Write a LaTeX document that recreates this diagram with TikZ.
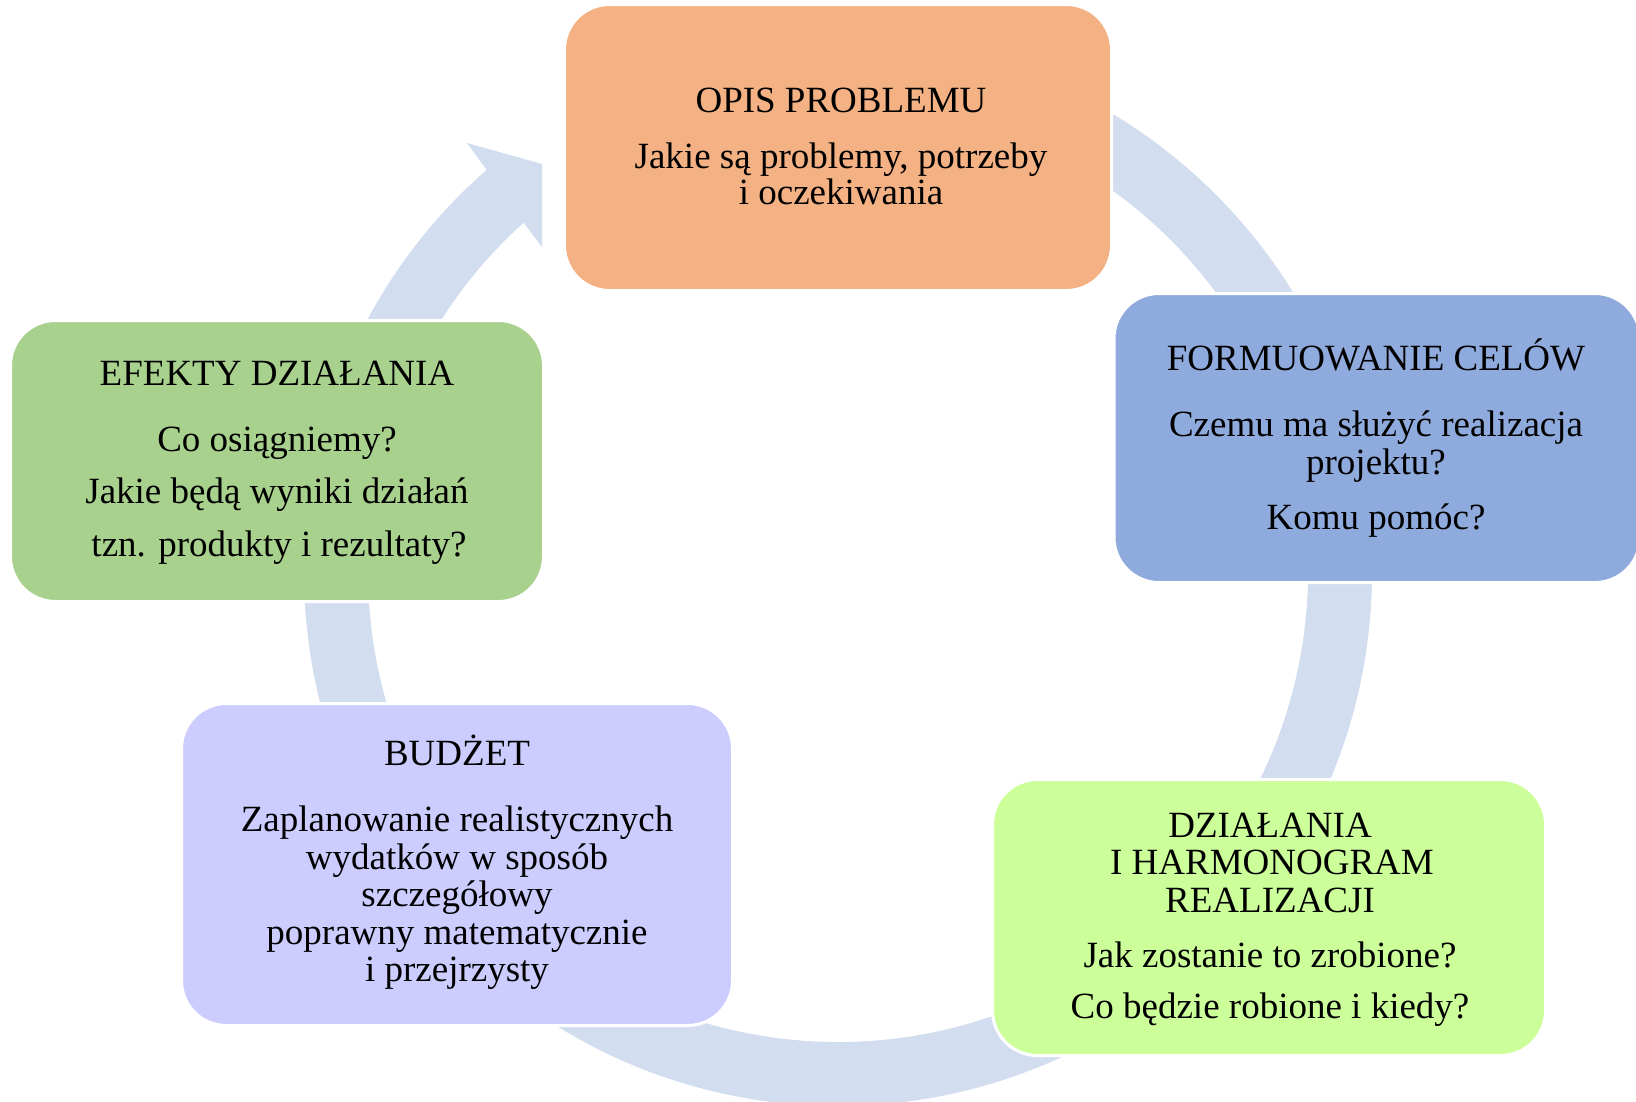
\documentclass[tikz,border=0pt]{standalone}
\usepackage{fontspec}
\setmainfont{Liberation Serif}
\usetikzlibrary{calc}
\definecolor{ringc}{HTML}{D2DDEF}
\definecolor{opisc}{HTML}{F4B183}
\definecolor{celec}{HTML}{8FAADC}
\definecolor{dzialc}{HTML}{CCFF99}
\definecolor{budzc}{HTML}{CCCCFF}
\definecolor{efekc}{HTML}{A9D18E}
\begin{document}
\begin{tikzpicture}[x=1pt,y=1pt,
  box/.style={draw=white,line width=3pt,rounded corners=45pt,inner sep=0pt},
  txt/.style={anchor=base,inner sep=0pt,font=\fontsize{37}{38}\selectfont}]
\begin{scope}[yscale=-1]
\fill[white] (0,0) rectangle (1636,1101);
\useasboundingbox (0,0) rectangle (1636,1101);
\coordinate (C) at (838,572);
% circular arrow
\fill[ringc] ($(C)+(270:534)$) arc[start angle=270,end angle=588.86,radius=534pt]
  -- (467,143) -- (542,164) -- (542,247) -- (523.6,222.7)
  arc[start angle=588.01,end angle=270,radius=470pt] -- cycle;
% boxes
\node[box,fill=opisc,minimum width=547pt,minimum height=286pt] (opis) at (838,147.5) {};
\node[box,fill=celec,minimum width=526pt,minimum height=289pt] (cele) at (1377,438) {};
\node[box,fill=dzialc,minimum width=553pt,minimum height=276pt] (dzial) at (1269,917.5) {};
\node[box,fill=budzc,minimum width=551pt,minimum height=322pt] (budz) at (457,864.5) {};
\node[box,fill=efekc,minimum width=533pt,minimum height=281pt] (efek) at (277,461) {};
% texts
\node[txt] (opis1) at (841,112.7) {OPIS PROBLEMU};
\node[txt] (opis2) at (841,168) {Jakie są problemy, potrzeby};
\node[txt] (opis3) at (841,204.5) {i oczekiwania};
\node[txt] (cele1) at (1376,370.5) {FORMUOWANIE CELÓW};
\node[txt] (cele2) at (1376,436) {Czemu ma służyć realizacja};
\node[txt] (cele3) at (1376,474.5) {projektu?};
\node[txt] (cele4) at (1376,529) {Komu pomóc?};
\node[txt] (dzial1) at (1270,837) {DZIAŁANIA};
\node[txt] (dzial2) at (1272,874) {I HARMONOGRAM};
\node[txt] (dzial3) at (1270,912) {REALIZACJI};
\node[txt] (dzial4) at (1270,967) {Jak zostanie to zrobione?};
\node[txt] (dzial5) at (1270,1018) {Co będzie robione i kiedy?};
\node[txt] (budz1) at (457,765) {BUDŻET};
\node[txt] (budz2) at (457,831.6) {Zaplanowanie realistycznych};
\node[txt] (budz3) at (457,869) {wydatków w sposób};
\node[txt] (budz4) at (457,906.7) {szczegółowy};
\node[txt] (budz5) at (457,944) {poprawny matematycznie};
\node[txt] (budz6) at (457,981) {i przejrzysty};
\node[txt] (efek1) at (277,385) {EFEKTY DZIAŁANIA};
\node[txt] (efek2) at (277,451.5) {Co osiągniemy?};
\node[txt] (efek3) at (277,503.5) {Jakie będą wyniki działań};
\node[txt] (efek4) at (279,556.5) {tzn. produkty i rezultaty?};
\end{scope}
\end{tikzpicture}
\end{document}
